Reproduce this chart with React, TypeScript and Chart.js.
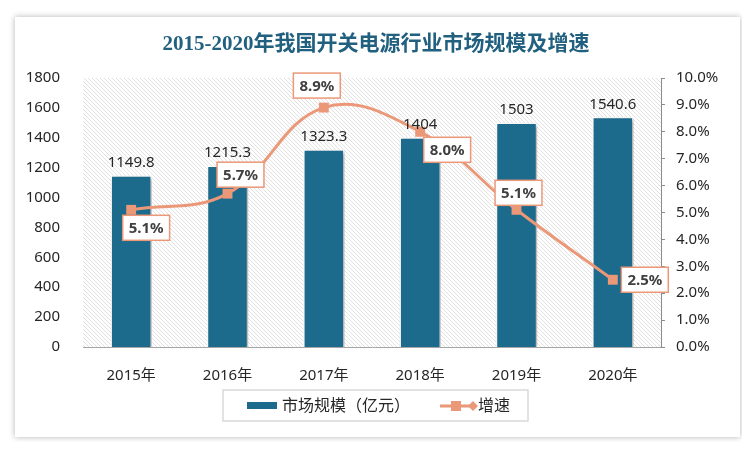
import React, { useEffect, useRef } from 'react';
import { Chart, registerables } from 'chart.js';

Chart.register(...registerables);

const categories = ['2015年', '2016年', '2017年', '2018年', '2019年', '2020年'];
const marketSize = [1149.8, 1215.3, 1323.3, 1404, 1503, 1540.6];
const marketSizeLabels = ['1149.8', '1215.3', '1323.3', '1404', '1503', '1540.6'];
const growthRate = [5.1, 5.7, 8.9, 8.0, 5.1, 2.5];
const growthLabels = ['5.1%', '5.7%', '8.9%', '8.0%', '5.1%', '2.5%'];

const titleText = '2015-2020年我国开关电源行业市场规模及增速';
const barLegend = '市场规模（亿元）';
const lineLegend = '增速';

// label placement offsets (dx, dy) relative to the point
const rateLabelOffsets = [
  [15, 18],
  [13, -19],
  [-7, -22],
  [27, 18],
  [2, -17],
  [32, 0],
];

const BAR_COLOR = '#1C6A8C';
const LINE_COLOR = '#EA9878';
const FONT = "'Noto Sans', 'Noto Sans CJK SC', sans-serif";

export default function App() {
  const ref = useRef<HTMLCanvasElement | null>(null);

  useEffect(() => {
    const canvas = ref.current;
    if (!canvas) return;

    const pc = document.createElement('canvas');
    pc.width = 4;
    pc.height = 4;
    const pctx = pc.getContext('2d')!;
    pctx.fillStyle = '#ffffff';
    pctx.fillRect(0, 0, 4, 4);
    pctx.strokeStyle = '#e0e0e0';
    pctx.lineWidth = 1;
    pctx.beginPath();
    pctx.moveTo(-1, -1);
    pctx.lineTo(5, 5);
    pctx.moveTo(-1, 3);
    pctx.lineTo(1, 5);
    pctx.moveTo(3, -1);
    pctx.lineTo(5, 1);
    pctx.stroke();

    const bgPlugin = {
      id: 'hatchBg',
      beforeDatasetsDraw(chart: any) {
        const { ctx, chartArea } = chart;
        const pat = ctx.createPattern(pc, 'repeat');
        ctx.save();
        ctx.fillStyle = pat;
        ctx.fillRect(chartArea.left, chartArea.top, chartArea.right - chartArea.left, chartArea.bottom - chartArea.top);
        ctx.restore();
      },
    };

    const shadowPlugin = {
      id: 'barShadow',
      beforeDatasetDraw(chart: any, args: any) {
        if (args.index !== 0) return;
        const ctx = chart.ctx;
        ctx.save();
        ctx.shadowColor = 'rgba(0,0,0,0.35)';
        ctx.shadowBlur = 4;
        ctx.shadowOffsetX = 2;
        ctx.shadowOffsetY = 2;
      },
      afterDatasetDraw(chart: any, args: any) {
        if (args.index !== 0) return;
        chart.ctx.restore();
      },
    };

    const labelsPlugin = {
      id: 'valueLabels',
      afterDatasetsDraw(chart: any) {
        const ctx = chart.ctx;
        const barMeta = chart.getDatasetMeta(0);
        ctx.save();
        ctx.font = `15px ${FONT}`;
        ctx.fillStyle = '#262626';
        ctx.textAlign = 'center';
        ctx.textBaseline = 'bottom';
        barMeta.data.forEach((el: any, i: number) => {
          ctx.fillText(marketSizeLabels[i], el.x, el.y - 5);
        });

        const lineMeta = chart.getDatasetMeta(1);
        ctx.font = `bold 15px ${FONT}`;
        ctx.textBaseline = 'middle';
        lineMeta.data.forEach((el: any, i: number) => {
          const [dx, dy] = rateLabelOffsets[i];
          const cx = el.x + dx;
          const cy = el.y + dy;
          const w = ctx.measureText(growthLabels[i]).width + 12;
          const h = 25;
          ctx.fillStyle = '#ffffff';
          ctx.fillRect(cx - w / 2, cy - h / 2, w, h);
          ctx.strokeStyle = LINE_COLOR;
          ctx.lineWidth = 1.5;
          ctx.strokeRect(cx - w / 2, cy - h / 2, w, h);
          ctx.fillStyle = '#404040';
          ctx.fillText(growthLabels[i], cx, cy + 1);
        });
        ctx.restore();
      },
    };

    const decorPlugin = {
      id: 'decor',
      afterDraw(chart: any) {
        const ctx = chart.ctx;
        ctx.save();
        // title
        ctx.font = `bold 21px 'Liberation Serif', 'Noto Sans CJK SC', serif`;
        ctx.fillStyle = '#21607F';
        ctx.textAlign = 'center';
        ctx.textBaseline = 'middle';
        ctx.fillText(titleText, 361, 28);

        // legend box
        ctx.strokeStyle = '#d9d9d9';
        ctx.lineWidth = 1.5;
        ctx.strokeRect(208, 373, 305, 31);
        // bar swatch
        ctx.fillStyle = BAR_COLOR;
        ctx.fillRect(232, 385, 30, 7);
        ctx.font = `16px ${FONT}`;
        ctx.fillStyle = '#262626';
        ctx.textAlign = 'left';
        ctx.textBaseline = 'middle';
        ctx.fillText(barLegend, 267, 389);
        // line swatch
        ctx.strokeStyle = LINE_COLOR;
        ctx.lineWidth = 3;
        ctx.beginPath();
        ctx.moveTo(425, 389);
        ctx.lineTo(460, 389);
        ctx.stroke();
        ctx.fillStyle = LINE_COLOR;
        ctx.fillRect(436, 384, 10, 10);
        ctx.beginPath();
        ctx.moveTo(458, 384);
        ctx.lineTo(463, 389);
        ctx.lineTo(458, 394);
        ctx.lineTo(453, 389);
        ctx.closePath();
        ctx.fill();
        ctx.fillStyle = '#262626';
        ctx.fillText(lineLegend, 463, 389);
        ctx.restore();
      },
    };

    const tickColor = '#262626';

    const chart = new Chart(canvas, {
      type: 'bar',
      data: {
        labels: categories,
        datasets: [
          {
            type: 'bar',
            label: barLegend,
            data: marketSize,
            backgroundColor: BAR_COLOR,
            borderColor: '#ffffff',
            borderWidth: 1.5,
            barPercentage: 1,
            categoryPercentage: 0.43,
            yAxisID: 'y',
            order: 2,
          },
          {
            type: 'line',
            label: lineLegend,
            data: growthRate,
            borderColor: LINE_COLOR,
            backgroundColor: LINE_COLOR,
            borderWidth: 3,
            tension: 0.4,
            pointStyle: 'rect',
            pointRadius: 7,
            pointBorderWidth: 0,
            pointBackgroundColor: LINE_COLOR,
            yAxisID: 'y1',
            order: 1,
          } as any,
        ],
      },
      options: {
        responsive: false,
        animation: false,
        devicePixelRatio: 1,
        layout: { padding: { top: 61, left: 10, right: 0, bottom: 55 } },
        font: { family: FONT },
        plugins: {
          legend: { display: false },
          title: { display: false },
          tooltip: { enabled: false },
        },
        scales: {
          x: {
            grid: { display: false },
            border: { display: true, color: '#a6a6a6', width: 1 },
            ticks: { padding: 12, color: tickColor, font: { size: 15, family: FONT }, maxRotation: 0 },
            afterFit: (s: any) => {
              s.height = 35;
            },
          },
          y: {
            position: 'left',
            min: 0,
            max: 1800,
            ticks: {
              stepSize: 200,
              padding: 15,
              color: tickColor,
              font: { size: 15, family: FONT },
              callback: (v: any) => String(v),
            },
            grid: { display: false },
            border: { display: false },
            afterFit: (s: any) => {
              s.width = 58;
            },
          },
          y1: {
            position: 'right',
            min: 0,
            max: 10,
            ticks: {
              stepSize: 1,
              padding: 11,
              color: tickColor,
              font: { size: 15, family: FONT },
              callback: (v: any) => Number(v).toFixed(1) + '%',
            },
            grid: { display: true, drawOnChartArea: false, drawTicks: true, tickLength: 4, color: '#8c8c8c' },
            border: { display: true, color: '#8c8c8c' },
            afterFit: (s: any) => {
              s.width = 79;
            },
          },
        },
      } as any,
      plugins: [bgPlugin, shadowPlugin, labelsPlugin, decorPlugin],
    });

    return () => chart.destroy();
  }, []);

  return (
    <div style={{ position: 'relative', width: 734, height: 434 }}>
      <div
        style={{
          position: 'absolute',
          left: 7,
          top: 9,
          width: 725,
          height: 420,
          background: '#ffffff',
          boxShadow: '0 0 6px rgba(0,0,0,0.3)',
        }}
      >
        <canvas ref={ref} width={725} height={420} style={{ display: 'block', width: 725, height: 420 }} />
      </div>
    </div>
  );
}
